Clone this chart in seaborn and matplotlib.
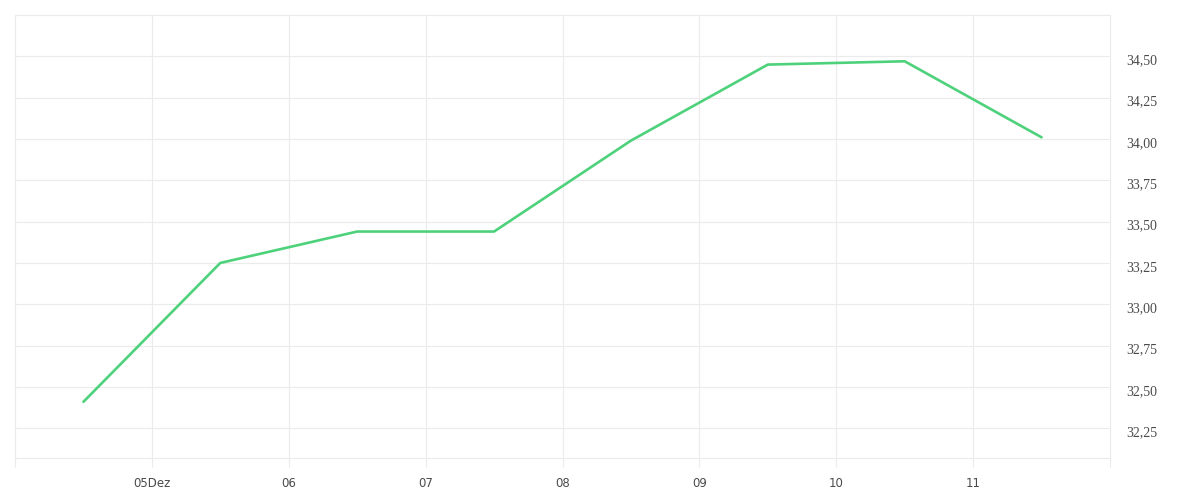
import matplotlib
matplotlib.use("Agg")
import matplotlib.pyplot as plt
import matplotlib.dates as mdates
import matplotlib.transforms as mtransforms
from matplotlib.ticker import FuncFormatter, FixedLocator
import seaborn as sns
import pandas as pd

# data
dates = ["2023-12-04 12:00", "2023-12-05 12:00", "2023-12-06 12:00", "2023-12-07 12:00",
         "2023-12-08 12:00", "2023-12-09 12:00", "2023-12-10 12:00", "2023-12-11 12:00"]
values = [32.41, 33.25, 33.44, 33.44, 33.99, 34.45, 34.47, 34.01]
tick_dates = ["2023-12-05", "2023-12-06", "2023-12-07", "2023-12-08",
              "2023-12-09", "2023-12-10", "2023-12-11"]
tick_labels = ["05Dez", "06", "07", "08", "09", "10", "11"]
y_ticks = [32.25, 32.50, 32.75, 33.00, 33.25, 33.50, 33.75, 34.00, 34.25, 34.50]

df = pd.DataFrame({"date": pd.to_datetime(dates), "value": values})

sns.set_theme(style="white")
grid_c = "#ebebeb"
text_c = "#4a4a4a"

fig = plt.figure(figsize=(12, 5), dpi=100)
ax = fig.add_axes([15/1200, 1 - 458/500, (1110 - 15)/1200, (458 - 15)/500])

sns.lineplot(data=df, x="date", y="value", ax=ax, color="#4dd27b", linewidth=1.9)

ax.set_xlim(pd.Timestamp("2023-12-04"), pd.Timestamp("2023-12-12"))
ax.set_ylim(32.07, 34.75)

ax.set_xticks(pd.to_datetime(tick_dates))
ax.set_xticklabels(tick_labels)
ax.xaxis.set_minor_locator(FixedLocator(mdates.date2num(pd.to_datetime(["2023-12-04", "2023-12-12"]))))
ax.set_yticks(y_ticks)
ax.yaxis.set_major_formatter(FuncFormatter(lambda v, p: f"{v:.2f}".replace(".", ",")))

ax.yaxis.tick_right()
ax.grid(True, color=grid_c, linewidth=0.8)
for s in ax.spines.values():
    s.set_visible(True)
    s.set_color(grid_c)
    s.set_linewidth(0.8)

ax.tick_params(axis="x", which="both", direction="out", length=6.5, width=0.8, color=grid_c,
               labelsize=8.5, labelcolor=text_c, pad=7.5, bottom=True)
ax.tick_params(axis="y", length=0, labelsize=10, labelcolor=text_c, pad=12)
for lab in ax.get_xticklabels():
    lab.set_fontfamily("DejaVu Sans")
offset = mtransforms.ScaledTranslation(0, -3/100, fig.dpi_scale_trans)
for lab in ax.get_yticklabels():
    lab.set_fontfamily("Liberation Serif")
    lab.set_transform(lab.get_transform() + offset)

ax.set_xlabel("")
ax.set_ylabel("")

fig.savefig("out.png", dpi=100)
